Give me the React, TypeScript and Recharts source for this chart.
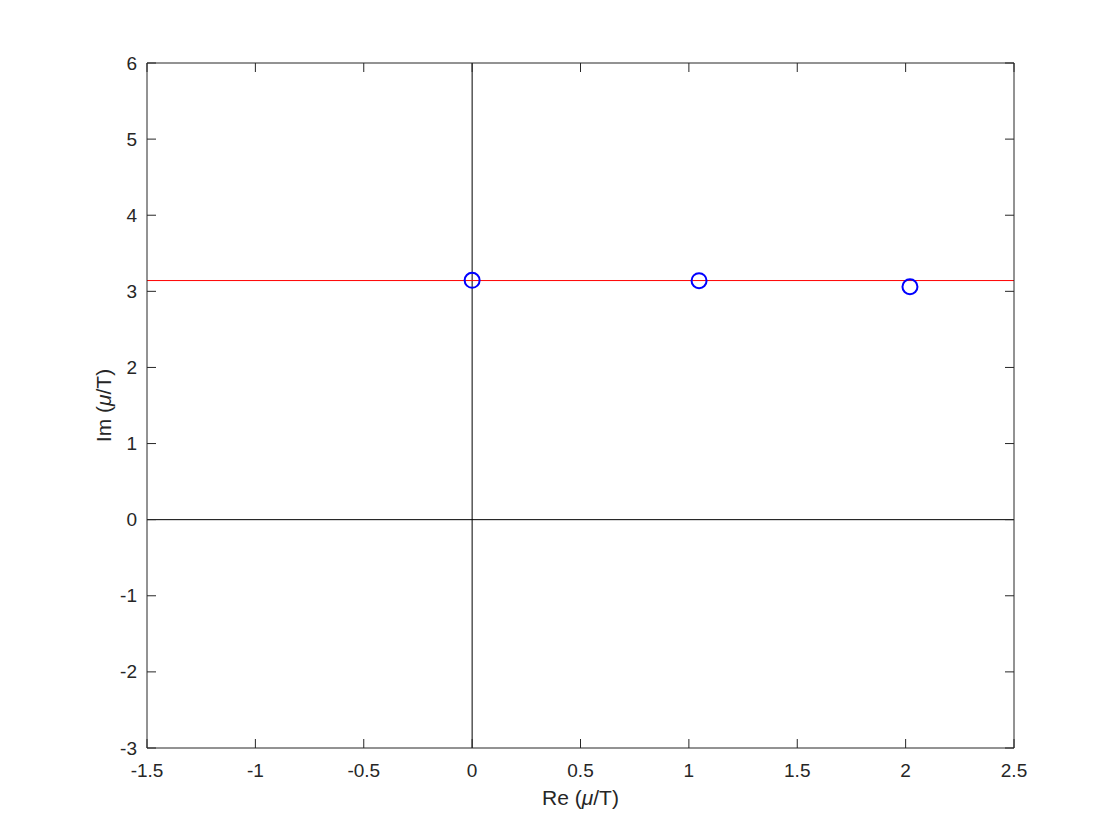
import React from 'react';
import {
  ScatterChart, Scatter, XAxis, YAxis, ReferenceLine,
} from 'recharts';

// poles in the complex plane
const reValues = [0, 1.047, 2.02];
const imValues = [3.145, 3.14, 3.06];
const xTicks = [-1.5, -1, -0.5, 0, 0.5, 1, 1.5, 2, 2.5];
const yTicks = [-3, -2, -1, 0, 1, 2, 3, 4, 5, 6];
const piLine = 3.14159;

const points = reValues.map((re, i) => ({ re, im: imValues[i] }));

const AX = '#262626';
const FONT = '"Liberation Sans", Arial, Helvetica, sans-serif';
const FS = 19;
const TITLE_FS = 21;
const TICK = 9;

const BottomTick = ({ x, y, payload }: any) => (
  <g>
    <line x1={x} x2={x} y1={y} y2={y - TICK} stroke={AX} />
    <text x={x} y={y + 22} textAnchor="middle" dominantBaseline="central" fill={AX} fontSize={FS} fontFamily={FONT}>
      {payload.value}
    </text>
  </g>
);

const TopTick = ({ x, y }: any) => (
  <line x1={x} x2={x} y1={y} y2={y + TICK} stroke={AX} />
);

const LeftTick = ({ x, y, payload }: any) => (
  <g>
    <line x1={x} x2={x + TICK} y1={y} y2={y} stroke={AX} />
    <text x={x - 10} y={y} textAnchor="end" dominantBaseline="central" fill={AX} fontSize={FS} fontFamily={FONT}>
      {payload.value}
    </text>
  </g>
);

const RightTick = ({ x, y }: any) => (
  <line x1={x} x2={x - TICK} y1={y} y2={y} stroke={AX} />
);

const XTitle = ({ viewBox }: any) => (
  <text x={viewBox.x + viewBox.width / 2} y={viewBox.y + 49} textAnchor="middle" dominantBaseline="central" fill={AX} fontSize={TITLE_FS} fontFamily={FONT}>
    Re (<tspan fontStyle="italic">μ</tspan>/T)
  </text>
);

const YTitle = ({ viewBox }: any) => {
  const cx = 103;
  const cy = viewBox.y + viewBox.height / 2;
  return (
    <text x={cx} y={cy} transform={`rotate(-90 ${cx} ${cy})`} textAnchor="middle" dominantBaseline="central" fill={AX} fontSize={TITLE_FS} fontFamily={FONT}>
      Im (<tspan fontStyle="italic">μ</tspan>/T)
    </text>
  );
};

const Ring = ({ cx, cy }: any) => (
  <circle cx={cx} cy={cy} r={7.5} fill="none" stroke="#0000ff" strokeWidth={2} />
);

const Nothing = () => <g />;

export default function App() {
  return (
    <div style={{ position: 'absolute', left: 0, top: 0, width: 1120, height: 840, background: '#fff' }}>
      <ScatterChart width={1120} height={840} margin={{ top: 62, right: 105, bottom: 0, left: 0 }}>
        <XAxis
          xAxisId="b" type="number" dataKey="re" domain={[-1.5, 2.5]} ticks={xTicks}
          allowDataOverflow orientation="bottom" height={92}
          tickSize={0} tickMargin={0} tick={<BottomTick />} tickLine={false}
          axisLine={{ stroke: AX }} label={<XTitle />}
        />
        <XAxis
          xAxisId="t" type="number" dataKey="re" domain={[-1.5, 2.5]} ticks={xTicks}
          allowDataOverflow orientation="top" height={1}
          tickSize={0} tickMargin={0} tick={<TopTick />} tickLine={false}
          axisLine={{ stroke: AX }}
        />
        <YAxis
          yAxisId="l" type="number" dataKey="im" domain={[-3, 6]} ticks={yTicks}
          allowDataOverflow orientation="left" width={147}
          tickSize={0} tickMargin={0} tick={<LeftTick />} tickLine={false}
          axisLine={{ stroke: AX }} label={<YTitle />}
        />
        <YAxis
          yAxisId="r" type="number" dataKey="im" domain={[-3, 6]} ticks={yTicks}
          allowDataOverflow orientation="right" width={1}
          tickSize={0} tickMargin={0} tick={<RightTick />} tickLine={false}
          axisLine={{ stroke: AX }}
        />
        <ReferenceLine xAxisId="b" yAxisId="l" x={0} stroke="#000" strokeWidth={1} />
        <ReferenceLine xAxisId="b" yAxisId="l" y={0} stroke="#000" strokeWidth={1} />
        <ReferenceLine xAxisId="b" yAxisId="l" y={piLine} stroke="#ff0000" strokeWidth={1} />
        <Scatter xAxisId="t" yAxisId="r" data={points} shape={<Nothing />} isAnimationActive={false} />
        <Scatter xAxisId="b" yAxisId="l" data={points} shape={<Ring />} isAnimationActive={false} />
      </ScatterChart>
    </div>
  );
}
